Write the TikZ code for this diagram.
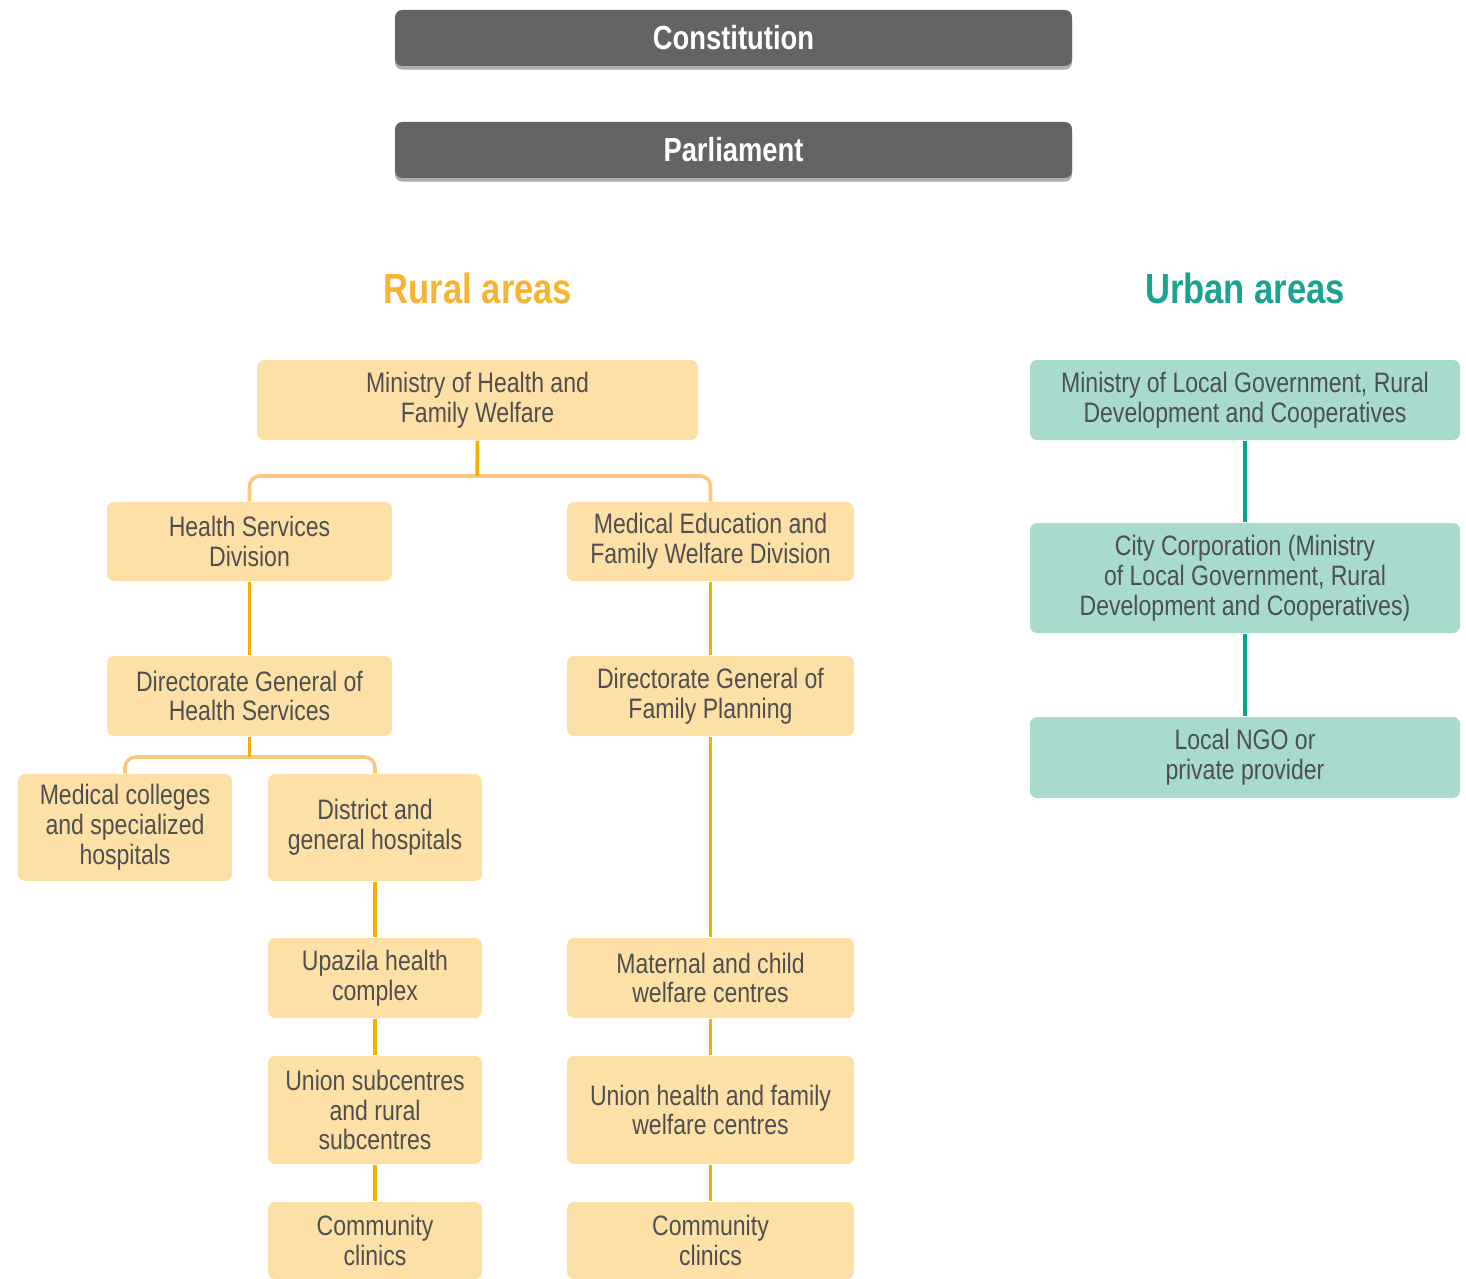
\documentclass[tikz,border=0pt]{standalone}
\usepackage{fontspec}
\setmainfont{Liberation Sans}[FakeStretch=0.82]
\usetikzlibrary{positioning,shadows}
\definecolor{govgrey}{HTML}{636466}
\definecolor{ruralfill}{HTML}{FDE0A6}
\definecolor{ruralline}{HTML}{F8B000}
\definecolor{ruralbus}{HTML}{FBC77A}
\definecolor{ruraltitle}{HTML}{F9B232}
\definecolor{urbanfill}{HTML}{A8DACD}
\definecolor{urbanline}{HTML}{00A88E}
\definecolor{urbantitle}{HTML}{1BA293}
\definecolor{boxtext}{HTML}{4F4F51}

\begin{document}
\begin{tikzpicture}[
    govt/.style = {fill=govgrey, rounded corners=2pt, text=white,
        font=\bfseries\fontsize{9.5}{10}\selectfont,
        minimum width=6.77cm, minimum height=0.56cm, inner sep=0pt,
        drop shadow={shadow xshift=0pt, shadow yshift=-1pt, fill=black!40, opacity=0.8}},
    heading/.style = {font=\bfseries\fontsize{12}{13}\selectfont},
    base/.style = {rounded corners=2pt, align=center, inner sep=0pt,
        text=boxtext, font=\fontsize{8}{8.5}\selectfont},
    rural/.style = {base, fill=ruralfill},
    urban/.style = {base, fill=urbanfill, minimum width=4.30cm},
    link/.style = {draw=ruralline, line width=1pt},
    bus/.style = {draw=ruralbus, line width=1pt, rounded corners=3pt},
    ulink/.style = {draw=urbanline, line width=1pt}
]
\useasboundingbox (0,0) rectangle (14.66,-12.79);

% top of the chart
\node[govt] (const) at (7.335,-0.38) {Constitution};
\node[govt] (parl) at (7.335,-1.50) {Parliament};

\node[heading, text=ruraltitle] (rural) at (4.78,-2.88) {Rural areas};
\node[heading, text=urbantitle] (urban) at (12.45,-2.88) {Urban areas};

% rural side
\node[rural, minimum width=4.41cm, minimum height=0.80cm] (moh) at (4.775,-4.00) {Ministry of Health and\\Family Welfare};
\node[rural, minimum width=2.85cm, minimum height=0.79cm] (hsd) at (2.495,-5.415) {Health Services\\Division};
\node[rural, minimum width=2.87cm, minimum height=0.79cm] (mefwd) at (7.105,-5.415) {Medical Education and\\Family Welfare Division};
\node[rural, minimum width=2.85cm, minimum height=0.80cm] (dghs) at (2.495,-6.96) {Directorate General of\\Health Services};
\node[rural, minimum width=2.87cm, minimum height=0.80cm] (dgfp) at (7.105,-6.96) {Directorate General of\\Family Planning};
\node[rural, minimum width=2.14cm, minimum height=1.07cm] (medcol) at (1.25,-8.275) {Medical colleges\\and specialized\\hospitals};
\node[rural, minimum width=2.14cm, minimum height=1.07cm] (dist) at (3.75,-8.275) {District and\\general hospitals};
\node[rural, minimum width=2.14cm, minimum height=0.80cm] (upazila) at (3.75,-9.78) {Upazila health\\complex};
\node[rural, minimum width=2.87cm, minimum height=0.80cm] (mcwc) at (7.105,-9.78) {Maternal and child\\welfare centres};
\node[rural, minimum width=2.14cm, minimum height=1.08cm] (unionsub) at (3.75,-11.10) {Union subcentres\\and rural\\subcentres};
\node[rural, minimum width=2.87cm, minimum height=1.08cm] (uhfwc) at (7.105,-11.10) {Union health and family\\welfare centres};
\node[rural, minimum width=2.14cm, minimum height=0.77cm] (cc1) at (3.75,-12.405) {Community\\clinics};
\node[rural, minimum width=2.87cm, minimum height=0.77cm] (cc2) at (7.105,-12.405) {Community\\clinics};

% urban side
\node[urban, minimum height=0.80cm] (mlg) at (12.45,-4.00) {Ministry of Local Government, Rural\\Development and Cooperatives};
\node[urban, minimum height=1.10cm] (city) at (12.45,-5.78) {City Corporation (Ministry\\of Local Government, Rural\\Development and Cooperatives)};
\node[urban, minimum height=0.81cm] (ngo) at (12.45,-7.575) {Local NGO or\\private provider};

% connectors
\coordinate (bus1) at (4.77,-4.76);
\coordinate (bus2) at (2.495,-7.57);
\draw[bus] (hsd.north) |- (bus1) -| (mefwd.north);
\draw[link] (moh.south) -- (bus1);
\draw[link] (hsd) -- (dghs);
\draw[link] (mefwd) -- (dgfp);
\draw[bus] (medcol.north) |- (bus2) -| (dist.north);
\draw[link] (dghs.south) -- (bus2);
\draw[link] (dist) -- (upazila);
\draw[link] (upazila) -- (unionsub);
\draw[link] (unionsub) -- (cc1);
\draw[link] (dgfp) -- (mcwc);
\draw[link] (mcwc) -- (uhfwc);
\draw[link] (uhfwc) -- (cc2);
\draw[ulink] (mlg) -- (city);
\draw[ulink] (city) -- (ngo);
\end{tikzpicture}
\end{document}
